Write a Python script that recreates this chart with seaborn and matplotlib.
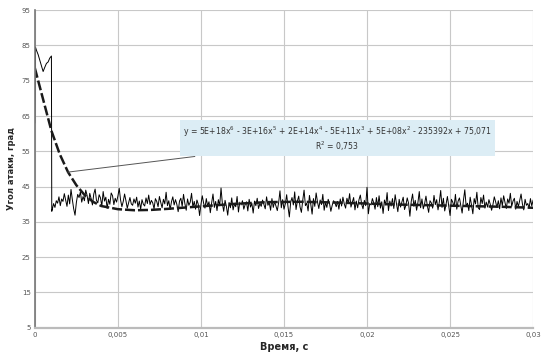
import numpy as np
import pandas as pd
import matplotlib
matplotlib.use("Agg")
import matplotlib.pyplot as plt
import seaborn as sns

# начальный участок сигнала (до скачка)
early_t = [0, 0.00004, 0.0001, 0.0002, 0.0003, 0.0004, 0.0005, 0.0006,
           0.0007, 0.0008, 0.0009, 0.001, 0.00102]
early_v = [63.0, 84.5, 83.6, 82.4, 80.8, 79.2, 77.6, 78.8, 79.9, 80.3,
           81.4, 82.0, 38.0]

# шумовой участок после скачка (0,001 ... 0,03 с)
noise_v = [
    38.5, 40.2, 39.1, 41.0, 40.3, 42.1, 39.6, 41.5, 40.8, 43.0, 41.2, 39.4,
    42.6, 40.1, 44.2, 41.3, 38.7, 36.9, 40.5, 42.8, 41.9, 43.5, 40.6, 42.2,
    41.0, 44.0, 42.5, 40.2, 43.1, 41.6, 39.8, 42.9, 44.3, 41.1, 40.4, 42.7,
    41.8, 39.5, 43.6, 40.9, 42.0, 38.8, 41.4, 40.0, 43.2, 42.4, 39.9, 41.7,
    40.6, 42.3, 44.5, 41.2, 39.3, 40.8, 42.9, 41.0, 38.9, 40.4, 41.9, 40.1,
    39.7, 41.5, 40.3, 42.0, 39.2, 40.9, 38.6, 41.3, 40.0, 39.5, 41.8, 40.2,
    42.6, 39.9, 41.1, 40.4, 38.7, 41.6, 40.8, 39.3, 42.2, 40.5, 39.0, 41.4,
    40.1, 43.4, 39.6, 41.0, 38.5, 40.7, 42.1, 39.8, 41.3, 40.0, 37.9, 40.9,
    41.7, 39.4, 42.8, 40.2, 38.3, 41.5, 39.7, 40.6, 43.1, 39.2, 40.8, 38.6,
    41.2, 40.0, 36.8, 39.9, 42.4, 40.3, 38.9, 41.6, 39.5, 40.7, 37.6, 40.4,
    42.9, 39.1, 40.8, 38.2, 41.3, 39.6, 44.6, 40.2, 38.0, 41.1, 39.4, 36.9,
    40.5, 39.0, 41.8, 38.4, 40.1, 39.3, 42.2, 37.8, 40.6, 39.8, 41.0, 38.6,
    39.9, 40.7, 38.1, 41.4, 39.2, 40.3, 37.5, 40.9, 39.6, 41.7, 38.8, 40.2,
    39.4, 41.2, 40.0, 38.7, 42.1, 39.7, 40.5, 38.3, 41.6, 39.1, 40.8, 39.5,
    38.2, 40.4, 43.8, 39.0, 41.3, 38.6, 40.1, 42.7, 39.3, 36.4, 40.6, 41.9,
    39.8, 43.5, 38.5, 40.9, 42.3, 39.2, 37.7, 41.1, 44.0, 39.6, 40.3, 38.1,
    42.5, 40.0, 37.2, 41.6, 39.4, 43.2, 40.7, 38.8, 41.2, 39.9, 42.8, 38.3,
    40.5, 39.1, 41.4, 40.2, 38.0, 39.7, 41.0, 40.4, 39.3, 40.8, 38.6, 41.5,
    39.5, 42.0, 40.1, 38.9, 41.7, 40.3, 43.0, 39.2, 40.6, 41.9, 38.4, 40.9,
    39.0, 41.3, 42.6, 40.0, 38.7, 41.1, 39.6, 44.8, 37.3, 40.2, 39.8, 41.6,
    40.4, 38.6, 41.9, 39.3, 42.4, 38.9, 40.7, 37.4, 41.2, 39.8, 43.3, 38.2,
    40.9, 39.5, 41.6, 38.8, 42.7, 40.1, 37.9, 41.4, 39.2, 40.6, 42.0, 38.5,
    39.7, 41.8, 40.3, 36.6, 40.8, 42.9, 39.4, 41.1, 38.3, 40.5, 43.6, 39.0,
    41.5, 38.7, 40.2, 42.3, 39.6, 37.7, 41.0, 40.4, 38.9, 42.5, 39.9, 41.3,
    38.4, 40.7, 43.9, 39.1, 41.7, 38.1, 40.0, 42.2, 39.5, 36.8, 41.4, 40.6,
    39.3, 42.8, 38.6, 40.9, 41.8, 39.7, 37.5, 41.2, 44.1, 39.4, 40.3, 38.2,
    42.0, 39.8, 37.3, 41.6, 40.1, 43.4, 39.0, 38.5, 41.9, 40.2, 42.6, 38.9,
    40.6, 39.2, 41.3, 40.0, 38.3, 39.9, 42.1, 40.7, 39.1, 41.0, 38.7, 41.8,
    39.6, 42.4, 40.5, 38.8, 41.5, 40.3, 43.1, 39.4, 40.9, 41.7, 38.6, 40.8,
    39.3, 41.1, 42.9, 40.1, 38.4, 41.4, 39.7, 40.2, 38.9, 41.6, 39.5, 41.2,
]
noise_t = np.linspace(0.00105, 0.03, len(noise_v))

# полиномиальный тренд (6-я степень)
trend_t = [0, 0.0005, 0.001, 0.0015, 0.002, 0.0025, 0.003, 0.0035, 0.004,
           0.005, 0.006, 0.007, 0.008, 0.01, 0.012, 0.014, 0.016, 0.018,
           0.02, 0.022, 0.024, 0.026, 0.028, 0.03]
trend_v = [78.6, 69.7, 60.8, 54.2, 49.1, 45.4, 42.6, 40.7, 39.5,
           38.6, 38.3, 38.4, 38.7, 39.4, 40.1, 40.6, 40.7, 40.5,
           40.2, 39.9, 39.7, 39.5, 39.3, 39.0]

y_ticks = [5, 15, 25, 35, 45, 55, 65, 75, 85, 95]
x_ticks = [0, 0.005, 0.01, 0.015, 0.02, 0.025, 0.03]
x_labels = ["0", "0,005", "0,01", "0,015", "0,02", "0,025", "0,03"]

signal = pd.DataFrame({"t": list(early_t) + list(noise_t),
                       "v": list(early_v) + noise_v})
trend = pd.DataFrame({"t": trend_t, "v": trend_v})

sns.set_style("whitegrid")
plt.rcParams["font.family"] = ["DejaVu Sans"]

fig = plt.figure(figsize=(5.44, 3.61), dpi=100)
ax = fig.add_axes([0.064, 0.092, 0.916, 0.88])

sns.lineplot(data=signal, x="t", y="v", ax=ax, color="black",
             linewidth=0.7, sort=False, estimator=None)
sns.lineplot(data=trend, x="t", y="v", ax=ax, color="#1a1a1a",
             linewidth=1.8, linestyle=(0, (4, 1.2)), estimator=None)

ax.set_xlim(0, 0.03)
ax.set_ylim(5, 95)
ax.set_yticks(y_ticks)
ax.set_xticks(x_ticks)
ax.set_xticklabels(x_labels)
ax.tick_params(labelsize=5, colors="#555555", length=0, pad=3)
ax.grid(True, color="#c8c8c8", linewidth=0.8)
for s in ["top", "right"]:
    ax.spines[s].set_visible(False)
ax.spines["left"].set_color("#777777")
ax.spines["left"].set_linewidth(1.2)
ax.spines["bottom"].set_color("#bbbbbb")
ax.spines["bottom"].set_linewidth(1.6)

ax.set_xlabel("Время, с", fontsize=7, fontweight="bold", labelpad=3)
ax.set_ylabel("Угол атаки, град", fontsize=6, fontweight="bold", labelpad=4)

# подпись уравнения тренда
eq = ("y = 5E+18x$^6$ - 3E+16x$^5$ + 2E+14x$^4$ - 5E+11x$^3$ "
      "+ 5E+08x$^2$ - 235392x + 75,071\nR$^2$ = 0,753")
ax.annotate(eq, xy=(0.00199, 49.1), xytext=(0.0182, 58.5),
            fontsize=5.6, ha="center", va="center", color="#333333",
            linespacing=1.1,
            bbox=dict(boxstyle="square,pad=0.4", fc="#dcedf5", ec="none"),
            arrowprops=dict(arrowstyle="-", color="#555555", lw=0.7,
                            shrinkA=0, shrinkB=0))

fig.savefig("out.png", dpi=100)
